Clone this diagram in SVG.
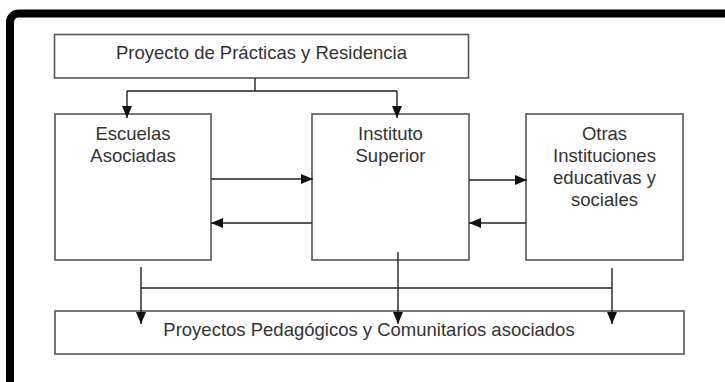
<svg xmlns="http://www.w3.org/2000/svg" width="725" height="382" viewBox="0 0 725 382">
<style>
.box{fill:#fff;stroke:#555;stroke-width:1.6}
.t{font-family:"Liberation Sans",Arial,sans-serif;font-size:18.5px;fill:#333;text-anchor:middle}
.c{fill:none;stroke:#222;stroke-width:1.4}
</style>
<defs>
<marker id="ah" markerUnits="userSpaceOnUse" markerWidth="12" markerHeight="12" viewBox="0 0 12 12" refX="12" refY="6" orient="auto">
<path d="M0,1 L12,6 L0,11 Z" fill="#111"/>
</marker>
</defs>
<rect width="725" height="382" fill="#fff"/>
<path d="M10,382 V22 A8.5,8.5 0 0 1 18.5,13.5 H725" fill="none" stroke="#000" stroke-width="8"/>
<g id="top">
<rect class="box" x="54.5" y="34.5" width="414" height="43.5"/>
<text class="t" x="261.5" y="58.5">Proyecto de Prácticas y Residencia</text>
</g>
<g id="escuelas">
<rect class="box" x="55" y="114" width="156" height="146"/>
<text class="t" x="133" y="140">Escuelas</text>
<text class="t" x="133" y="162">Asociadas</text>
</g>
<g id="instituto">
<rect class="box" x="312" y="114" width="157" height="146"/>
<text class="t" x="390.5" y="140">Instituto</text>
<text class="t" x="390.5" y="162">Superior</text>
</g>
<g id="otras">
<rect class="box" x="526" y="114" width="157" height="146"/>
<text class="t" x="604.5" y="140">Otras</text>
<text class="t" x="604.5" y="162">Instituciones</text>
<text class="t" x="604.5" y="184">educativas y</text>
<text class="t" x="604.5" y="206">sociales</text>
</g>
<g id="proyectos">
<rect class="box" x="55" y="311" width="629" height="43"/>
<text class="t" x="369" y="336">Proyectos Pedagógicos y Comunitarios asociados</text>
</g>
<g id="connectors">
<path class="c" d="M255,78 V91 M127,91 H397"/>
<path class="c" d="M127,91 V118" marker-end="url(#ah)"/>
<path class="c" d="M397,91 V118" marker-end="url(#ah)"/>
<path class="c" d="M211,179 H313" marker-end="url(#ah)"/>
<path class="c" d="M312,223 H211" marker-end="url(#ah)"/>
<path class="c" d="M469,180 H527" marker-end="url(#ah)"/>
<path class="c" d="M526,223 H469" marker-end="url(#ah)"/>
<path class="c" d="M141,288 H612"/>
<path class="c" d="M141,267 V324" marker-end="url(#ah)"/>
<path class="c" d="M398,252 V324" marker-end="url(#ah)"/>
<path class="c" d="M612,268 V324" marker-end="url(#ah)"/>
</g>
</svg>
